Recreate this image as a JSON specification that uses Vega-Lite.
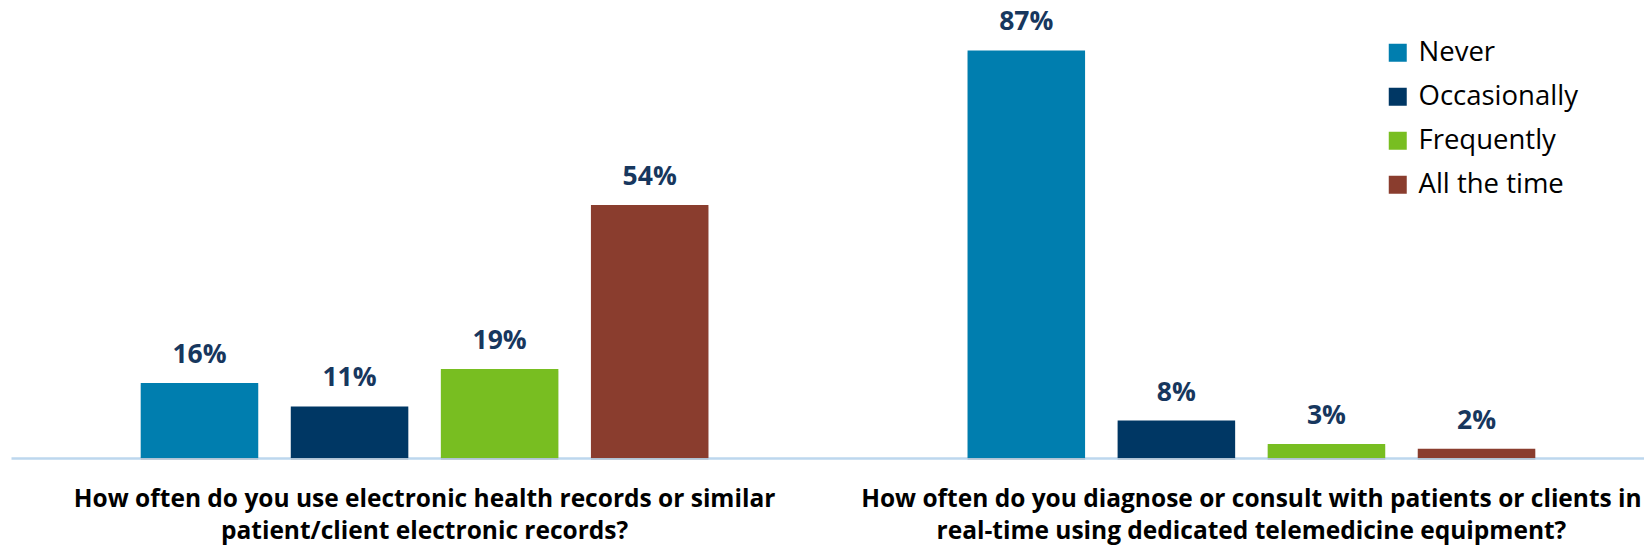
{
  "$schema": "https://vega.github.io/schema/vega-lite/v6.json",
  "autosize": {"type": "none"},
  "width": 1633,
  "height": 445,
  "padding": {"left": 11, "top": 13, "right": 0, "bottom": 91},
  "background": "white",
  "config": {"view": {"stroke": null}},
  "data": {"values": [
    {"question": "How often do you use electronic health records or similar|patient/client electronic records?", "answer": "Never", "pct": 0.16},
    {"question": "How often do you use electronic health records or similar|patient/client electronic records?", "answer": "Occasionally", "pct": 0.11},
    {"question": "How often do you use electronic health records or similar|patient/client electronic records?", "answer": "Frequently", "pct": 0.19},
    {"question": "How often do you use electronic health records or similar|patient/client electronic records?", "answer": "All the time", "pct": 0.54},
    {"question": "How often do you diagnose or consult with patients or clients in|real-time using dedicated telemedicine equipment?", "answer": "Never", "pct": 0.87},
    {"question": "How often do you diagnose or consult with patients or clients in|real-time using dedicated telemedicine equipment?", "answer": "Occasionally", "pct": 0.08},
    {"question": "How often do you diagnose or consult with patients or clients in|real-time using dedicated telemedicine equipment?", "answer": "Frequently", "pct": 0.03},
    {"question": "How often do you diagnose or consult with patients or clients in|real-time using dedicated telemedicine equipment?", "answer": "All the time", "pct": 0.02}
  ]},
  "encoding": {
    "x": {
      "field": "question", "type": "nominal", "sort": null,
      "scale": {"paddingInner": 0.274, "paddingOuter": 0.1245, "align": 0.551},
      "axis": {
        "title": null, "labelAngle": 0, "ticks": false,
        "domainColor": "#BDD7EE", "domainWidth": 2.5,
        "labelExpr": "split(datum.value, '|')",
        "labelFont": "Open Sans", "labelFontWeight": "bold", "labelFontSize": 24.5,
        "labelColor": "#000000", "labelLimit": 0, "labelPadding": 29,
        "labelLineHeight": 32
      }
    },
    "xOffset": {
      "field": "answer", "type": "nominal",
      "sort": ["Never", "Occasionally", "Frequently", "All the time"],
      "scale": {"paddingInner": 0.217, "paddingOuter": 0.1085}
    },
    "y": {
      "field": "pct", "type": "quantitative",
      "scale": {"domain": [0, 0.95], "nice": false},
      "axis": null
    }
  },
  "layer": [
    {
      "mark": {"type": "bar", "color": "#808080", "opacity": 0.22, "xOffset": 3, "yOffset": 2}
    },
    {
      "mark": {"type": "bar"},
      "encoding": {
        "color": {
          "field": "answer", "type": "nominal",
          "scale": {
            "domain": ["Never", "Occasionally", "Frequently", "All the time"],
            "range": ["#007EAF", "#003764", "#78BE21", "#8A3D2E"]
          },
          "legend": {
            "title": null, "orient": "none", "legendX": 1373, "legendY": 26,
            "symbolType": "square", "symbolSize": 324, "symbolStrokeWidth": 0,
            "labelFont": "Open Sans", "labelFontSize": 27.5, "labelColor": "#000000",
            "labelOffset": 7, "rowPadding": 15, "labelLimit": 300
          }
        }
      }
    },
    {
      "mark": {"type": "text", "baseline": "alphabetic", "dy": -20, "font": "Open Sans", "fontWeight": "bold", "fontSize": 26.5, "color": "#17375E"},
      "encoding": {
        "text": {"field": "pct", "type": "quantitative", "format": ".0%"}
      }
    }
  ]
}
